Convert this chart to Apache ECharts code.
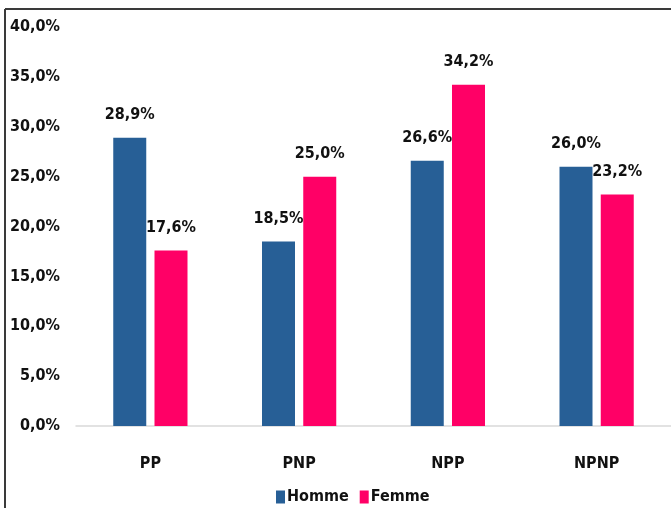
<!DOCTYPE html>
<html>
<head>
<meta charset="utf-8">
<script src="https://cdn.jsdelivr.net/npm/echarts@6/dist/echarts.min.js"></script>
<style>
  html, body { margin: 0; padding: 0; background: #fff; }
  #chart { width: 671px; height: 508px; }
</style>
</head>
<body>
<div id="chart"></div>
<script>
// Profiles and shares per sex (percent)
const categories = ['PP', 'PNP', 'NPP', 'NPNP'];
const homme = [28.9, 18.5, 26.6, 26.0];
const femme = [17.6, 25.0, 34.2, 23.2];
const seriesNames = ['Homme', 'Femme'];
const yTicks = { min: 0, max: 40, interval: 5 };

const FONT = '"DejaVu Sans Condensed", "Liberation Sans Narrow", "Liberation Sans", Arial, sans-serif';
const pct = v => v.toFixed(1).replace('.', ',') + '%';

const labelStyle = {
  show: true,
  position: 'top',
  distance: 15,
  fontFamily: FONT,
  fontWeight: 'bold',
  fontSize: 16,
  color: '#111',
  formatter: p => pct(p.value)
};

const chart = echarts.init(document.getElementById('chart'), null, { renderer: 'canvas' });
chart.setOption({
  animation: false,
  backgroundColor: '#fff',
  textStyle: { fontFamily: FONT },
  grid: { left: 76, right: 0, top: 27, bottom: 82, containLabel: false },
  legend: {
    data: seriesNames,
    left: 271,
    bottom: -2,
    itemWidth: 9,
    itemHeight: 13,
    itemGap: 11,
    icon: 'rect',
    textStyle: { fontFamily: FONT, fontWeight: 'bold', fontSize: 16, color: '#111', padding: [0, 0, 0, -3] }
  },
  xAxis: {
    type: 'category',
    data: categories,
    axisLine: { show: true, lineStyle: { color: '#d9d9d9', width: 1.5 } },
    axisTick: { show: false },
    axisLabel: { margin: 30, fontFamily: FONT, fontWeight: 'bold', fontSize: 16, color: '#111' }
  },
  yAxis: {
    type: 'value',
    min: yTicks.min,
    max: yTicks.max,
    interval: yTicks.interval,
    axisLine: { show: false },
    axisTick: { show: false },
    splitLine: { show: false },
    axisLabel: { margin: 16, fontFamily: FONT, fontWeight: 'bold', fontSize: 16, color: '#111', formatter: v => pct(v) }
  },
  series: [
    {
      name: seriesNames[0],
      type: 'bar',
      data: homme,
      barWidth: 33,
      barGap: '25%',
      itemStyle: { color: '#275F96' },
      label: labelStyle
    },
    {
      name: seriesNames[1],
      type: 'bar',
      data: femme,
      barWidth: 33,
      barGap: '25%',
      itemStyle: { color: '#FF0066' },
      label: labelStyle
    }
  ],
  graphic: [
    { type: 'line', shape: { x1: 5, y1: 9, x2: 5, y2: 508 }, style: { stroke: '#3a3a3a', lineWidth: 2 } },
    { type: 'line', shape: { x1: 5, y1: 9, x2: 671, y2: 9 }, style: { stroke: '#3a3a3a', lineWidth: 2 } }
  ]
});
</script>
</body>
</html>
